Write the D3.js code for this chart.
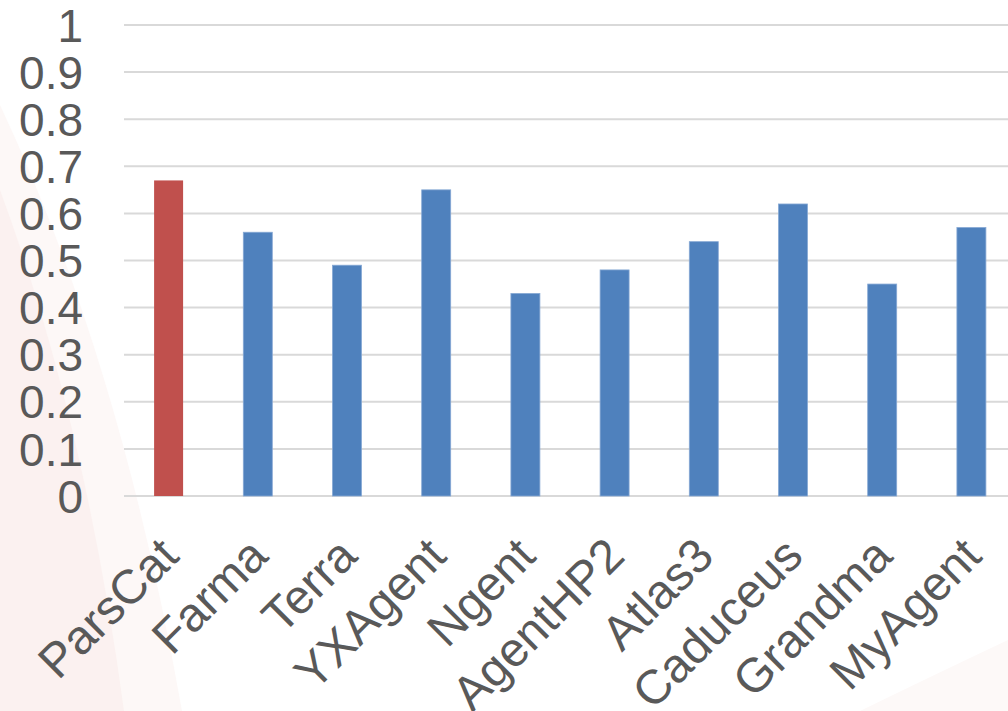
<!DOCTYPE html>
<html>
<head>
<meta charset="utf-8">
<script src="https://cdn.jsdelivr.net/npm/d3@7"></script>
<style>
  html, body { margin: 0; padding: 0; background: #ffffff; }
  svg { display: block; }
  text { font-family: "Liberation Sans", Arial, sans-serif; fill: #595959; }
</style>
</head>
<body>
<svg id="chart" width="1008" height="711"></svg>
<script>
// Agent scores
const categories = ["ParsCat", "Farma", "Terra", "YXAgent", "Ngent", "AgentHP2", "Atlas3", "Caduceus", "Grandma", "MyAgent"];
const scores = [0.67, 0.56, 0.49, 0.65, 0.43, 0.48, 0.54, 0.62, 0.45, 0.57];
const highlighted = ["ParsCat"];
const yTicks = [0, 0.1, 0.2, 0.3, 0.4, 0.5, 0.6, 0.7, 0.8, 0.9, 1];

const W = 1008, H = 711;
const svg = d3.select("#chart");

// soft decorative background shapes
const bg = svg.append("g");
bg.append("path").attr("d", "M0,105 Q120,360 182,711 L0,711 Z").attr("fill", "#fdf8f7");
bg.append("path").attr("d", "M0,190 Q85,420 124,711 L0,711 Z").attr("fill", "#fbf1f0");
bg.append("path").attr("d", "M860,711 Q940,672 1008,640 L1008,711 Z").attr("fill", "#fdf9f8");

const x = d3.scaleBand()
  .domain(categories)
  .range([124, 1016])
  .paddingInner(0.675)
  .paddingOuter(0.3375);

const y = d3.scaleLinear().domain([0, 1]).range([496, 25]);

// horizontal gridlines
svg.append("g")
  .selectAll("line")
  .data(yTicks)
  .join("line")
  .attr("x1", 124).attr("x2", W)
  .attr("y1", d => y(d)).attr("y2", d => y(d))
  .attr("stroke", "#d9d9d9")
  .attr("stroke-width", 2);

// y axis labels
const yAxis = d3.axisLeft(y).tickValues(yTicks).tickFormat(d3.format("~g")).tickSize(0).tickPadding(0);
const gy = svg.append("g").attr("transform", "translate(83,0)").call(yAxis);
gy.select(".domain").remove();
gy.selectAll("text")
  .attr("font-size", 46)
  .attr("dy", "0.35em")
  .style("font-family", "'Liberation Sans', Arial, sans-serif")
  .attr("fill", "#595959");

// bars
svg.append("g")
  .selectAll("rect")
  .data(categories.map((c, i) => ({ c, v: scores[i] })))
  .join("rect")
  .attr("x", d => x(d.c))
  .attr("width", x.bandwidth())
  .attr("y", d => y(d.v))
  .attr("height", d => y(0) - y(d.v))
  .attr("fill", d => highlighted.includes(d.c) ? "#c0504d" : "#4f81bd")
  .attr("stroke", d => highlighted.includes(d.c) ? "none" : "#86a8d4")
  .attr("stroke-width", 0.8);

// category labels
const xAxis = d3.axisBottom(x).tickSize(0).tickPadding(0);
const gx = svg.append("g").attr("transform", "translate(0,496)").call(xAxis);
gx.select(".domain").remove();
gx.selectAll("text")
  .attr("font-size", 48)
  .attr("text-anchor", "end")
  .attr("dy", null)
  .attr("y", null)
  .attr("transform", "translate(-12,38) rotate(-45)")
  .attr("dominant-baseline", "hanging")
  .style("font-family", "'Liberation Sans', Arial, sans-serif")
  .attr("fill", "#595959");
</script>
</body>
</html>
